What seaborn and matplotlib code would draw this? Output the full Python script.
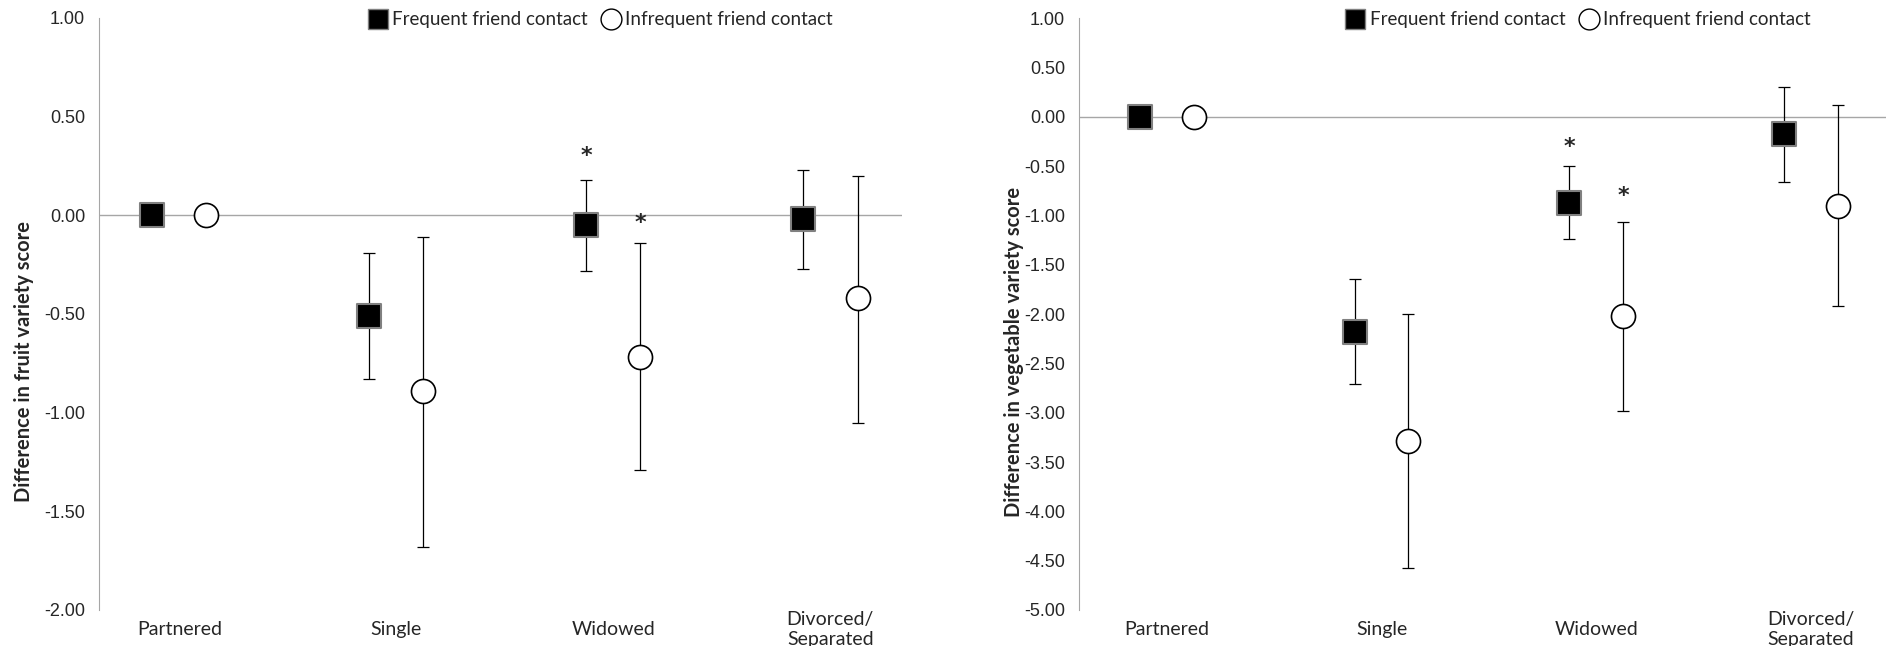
import matplotlib
matplotlib.use("Agg")
import matplotlib.pyplot as plt
import seaborn as sns
import pandas as pd
from matplotlib.lines import Line2D

categories = ["Partnered", "Single", "Widowed", "Divorced/\nSeparated"]

# fruit variety (left panel)
fruit_freq = [0.0, -0.51, -0.05, -0.02]
fruit_freq_lo = [0.0, -0.83, -0.28, -0.27]
fruit_freq_hi = [0.0, -0.19, 0.18, 0.23]
fruit_infreq = [0.0, -0.89, -0.72, -0.42]
fruit_infreq_lo = [0.0, -1.68, -1.29, -1.05]
fruit_infreq_hi = [0.0, -0.11, -0.14, 0.20]
fruit_stars = [("Frequent", 2, 0.30), ("Infrequent", 2, -0.04)]

# vegetable variety (right panel)
veg_freq = [0.0, -2.18, -0.87, -0.18]
veg_freq_lo = [0.0, -2.71, -1.24, -0.66]
veg_freq_hi = [0.0, -1.65, -0.50, 0.30]
veg_infreq = [0.0, -3.29, -2.02, -0.91]
veg_infreq_lo = [0.0, -4.57, -2.98, -1.92]
veg_infreq_hi = [0.0, -2.00, -1.07, 0.12]
veg_stars = [("Frequent", 2, -0.31), ("Infrequent", 2, -0.80)]

OFFSET = {"Frequent": -0.125, "Infrequent": 0.125}
TICK_FONT = ["Liberation Sans", "DejaVu Sans"]


def make_df(freq, flo, fhi, inf, ilo, ihi):
    rows = []
    for i in range(len(categories)):
        rows.append(dict(cat=i, group="Frequent", y=freq[i], lo=flo[i], hi=fhi[i]))
        rows.append(dict(cat=i, group="Infrequent", y=inf[i], lo=ilo[i], hi=ihi[i]))
    df = pd.DataFrame(rows)
    df["x"] = df["cat"] + df["group"].map(OFFSET)
    return df


def draw_panel(ax, df, stars, ylim, yticks, ylabel, xlim, leg_x, ylab_pos):
    ax.axhline(0, color="#a6a6a6", lw=1.0, zorder=1)
    for _, r in df.iterrows():
        if r["cat"] == 0:
            continue
        ax.errorbar(r["x"], r["y"], yerr=[[r["y"] - r["lo"]], [r["hi"] - r["y"]]],
                    fmt="none", ecolor="black", elinewidth=0.9, capsize=4, capthick=0.9, zorder=2)
    fr = df[df.group == "Frequent"]
    inf = df[df.group == "Infrequent"]
    sns.scatterplot(data=fr, x="x", y="y", marker="s", color="black", edgecolor="#808080",
                    linewidth=1.5, s=290, ax=ax, zorder=3, legend=False)
    sns.scatterplot(data=inf, x="x", y="y", marker="o", color="white", edgecolor="black",
                    linewidth=1.2, s=300, ax=ax, zorder=3, legend=False)
    for g, c, yv in stars:
        ax.text(c + OFFSET[g], yv, "*", ha="center", va="center", fontsize=16,
                fontweight="bold", family="DejaVu Sans")
    ax.set_ylim(*ylim)
    ax.set_xlim(*xlim)
    ax.set_yticks(yticks)
    ax.set_yticklabels([f"{t:.2f}" for t in yticks], fontsize=13, family=TICK_FONT)
    ax.set_xticks(range(len(categories)))
    ax.set_xticklabels(categories, fontsize=14, va="center")
    ax.tick_params(axis="x", length=0, pad=14)
    ax.tick_params(axis="y", length=5, color="#a6a6a6", direction="out", pad=5)
    for s in ["top", "right", "bottom"]:
        ax.spines[s].set_visible(False)
    ax.spines["left"].set_color("#a6a6a6")
    ax.set_xlabel("")
    ax.set_ylabel(ylabel, fontsize=14.5, fontweight="bold")
    ax.yaxis.set_label_coords(*ylab_pos)
    handles = [
        Line2D([], [], marker="s", ls="", color="black", markeredgecolor="#808080", markersize=14),
        Line2D([], [], marker="o", ls="", markerfacecolor="white", markeredgecolor="black", markersize=15),
    ]
    ax.legend(handles, ["Frequent friend contact", "Infrequent friend contact"], ncol=2,
              loc="upper center", bbox_to_anchor=(leg_x, 1.04), frameon=False, fontsize=13.5,
              handletextpad=0.2, columnspacing=0.7, handlelength=1.1)


sns.set_style("white")
plt.rcParams["font.family"] = ["Lato", "DejaVu Sans"]

fig = plt.figure(figsize=(18.86, 6.46), dpi=100)
ax1 = fig.add_axes([99 / 1886, 1 - 610 / 646, (902 - 99) / 1886, (610 - 18) / 646])
ax2 = fig.add_axes([1079 / 1886, 1 - 610 / 646, (1886 - 1079) / 1886, (610 - 18) / 646])

df_fruit = make_df(fruit_freq, fruit_freq_lo, fruit_freq_hi, fruit_infreq, fruit_infreq_lo, fruit_infreq_hi)
df_veg = make_df(veg_freq, veg_freq_lo, veg_freq_hi, veg_infreq, veg_infreq_lo, veg_infreq_hi)

draw_panel(ax1, df_fruit, fruit_stars, (-2.0, 1.0), [1.0, 0.5, 0.0, -0.5, -1.0, -1.5, -2.0],
           "Difference in fruit variety score", (-0.37, 3.33), 0.624, (-0.081, 0.42))
draw_panel(ax2, df_veg, veg_stars, (-5.0, 1.0), [1.0, 0.5, 0.0, -0.5, -1.0, -1.5, -2.0, -2.5,
                                                   -3.0, -3.5, -4.0, -4.5, -5.0],
           "Difference in vegetable variety score", (-0.41, 3.35), 0.618, (-0.068, 0.436))

fig.savefig("out.png", dpi=100)
